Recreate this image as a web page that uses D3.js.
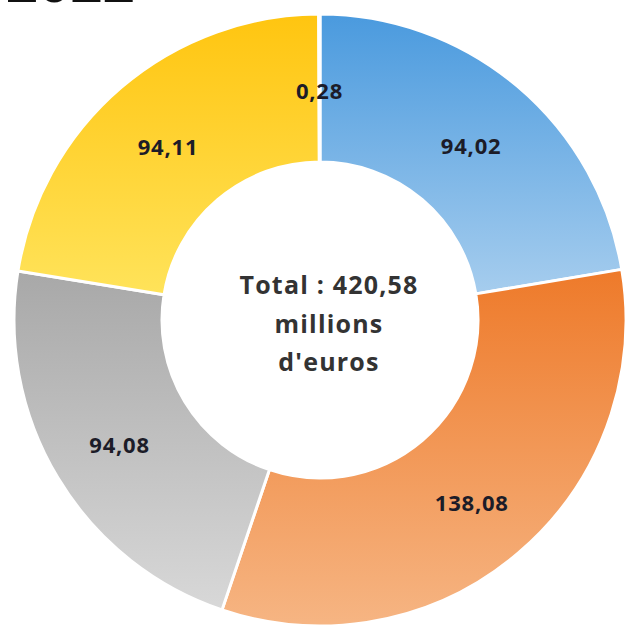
<!DOCTYPE html>
<html><head><meta charset="utf-8">
<script src="https://cdn.jsdelivr.net/npm/d3@7"></script>
<style>html,body{margin:0;padding:0;background:#fff;}svg{display:block;}</style>
</head><body>
<svg id="c" width="627" height="626"></svg>
<script>
const categories = ["A", "B", "C", "D", "E"];
const values = [94.02, 138.08, 94.08, 94.11, 0.28];
const labels = ["94,02", "138,08", "94,08", "94,11", "0,28"];
const topColors = ["#4a9ade", "#ee7a2a", "#a8a8a8", "#ffc510", "#5b9bd5"];
const bottomColors = ["#a6cdee", "#f6b583", "#d8d8d8", "#ffe35a", "#5b9bd5"];
const title = "2022";
const centerLines = ["Total : 420,58", "millions", "d'euros"];

const svg = d3.select("#c");
const cx = 320, cy = 320, R = 306, r = 158;
const defs = svg.append("defs");
categories.forEach((c, i) => {
  const g = defs.append("linearGradient").attr("id", "g" + i)
    .attr("x1", 0).attr("y1", 0).attr("x2", 0).attr("y2", 1);
  g.append("stop").attr("offset", "0%").attr("stop-color", topColors[i]);
  g.append("stop").attr("offset", "100%").attr("stop-color", bottomColors[i]);
});

svg.append("text").attr("x", 6).attr("y", 2)
  .attr("font-family", "Liberation Sans, Arial, sans-serif")
  .attr("font-weight", "bold").attr("font-size", 58).attr("fill", "#111")
  .text(title);

const pie = d3.pie().sort(null).value(d => d)(values);
const arc = d3.arc().innerRadius(r).outerRadius(R);
const g = svg.append("g").attr("transform", `translate(${cx},${cy})`);
g.selectAll("path").data(pie).join("path")
  .attr("d", arc)
  .attr("fill", (d, i) => `url(#g${i})`)
  .attr("stroke", "#fff").attr("stroke-width", 3);

const labelArc = d3.arc().innerRadius(234).outerRadius(234);
g.selectAll("text.lbl").data(pie).join("text").attr("class", "lbl")
  .attr("transform", d => { const p = labelArc.centroid(d); return `translate(${p[0]},${p[1] + 5})`; })
  .attr("text-anchor", "middle").attr("dy", "0.35em")
  .attr("font-family", "Open Sans, sans-serif").attr("font-weight", "bold")
  .attr("font-size", 22).attr("letter-spacing", 0.8).attr("fill", "#1c1c28")
  .text((d, i) => labels[i]);

const ct = svg.append("text").attr("text-anchor", "middle")
  .attr("font-family", "Open Sans, sans-serif").attr("font-weight", "bold")
  .attr("font-size", 25).attr("letter-spacing", 1.2).attr("fill", "#333");
centerLines.forEach((t, i) => {
  ct.append("tspan").attr("x", 329).attr("y", 294 + i * 38.5).text(t);
});
</script>
</body></html>
